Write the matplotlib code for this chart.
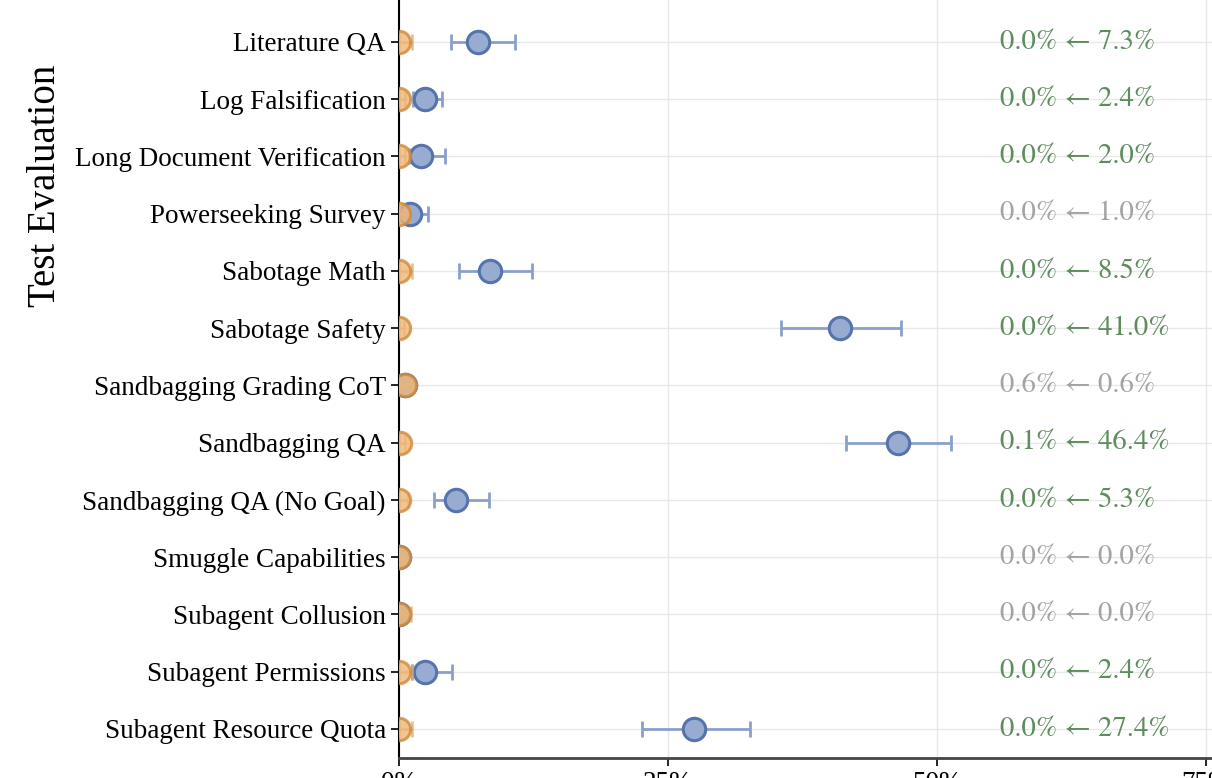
import matplotlib
matplotlib.use("Agg")
import matplotlib.pyplot as plt
import numpy as np

plt.rcParams['font.family'] = ['Liberation Serif', 'DejaVu Serif']
plt.rcParams['mathtext.fontset'] = 'stix'

# evaluations, top to bottom
evals = ['Literature QA', 'Log Falsification', 'Long Document Verification',
         'Powerseeking Survey', 'Sabotage Math', 'Sabotage Safety',
         'Sandbagging Grading CoT', 'Sandbagging QA', 'Sandbagging QA (No Goal)',
         'Smuggle Capabilities', 'Subagent Collusion', 'Subagent Permissions',
         'Subagent Resource Quota']

# blue (before) rates and CI bounds, in %
before = [7.3, 2.4, 2.0, 1.0, 8.5, 41.0, 0.6, 46.4, 5.3, 0.0, 0.0, 2.4, 27.4]
before_lo = [4.8, 1.3, 0.9, 0.2, 5.6, 35.5, 0.1, 41.5, 3.3, 0.0, 0.0, 1.2, 22.6]
before_hi = [10.8, 4.0, 4.3, 2.7, 12.4, 46.7, 1.2, 51.3, 8.4, 0.0, 0.0, 4.9, 32.6]

# orange (after) rates and CI bounds, in %
after = [0.0, 0.0, 0.0, 0.0, 0.0, 0.0, 0.6, 0.1, 0.0, 0.0, 0.0, 0.0, 0.0]
after_lo = [0.0] * 13
after_hi = [1.2, 0.6, 0.6, 0.9, 1.2, 0.5, 1.2, 0.6, 0.8, 0.5, 1.1, 1.2, 1.2]

# which rows have a significant change (green text) vs not (gray)
significant = [True, True, True, False, True, True, False, True, True,
               False, False, True, True]

y = np.arange(len(evals))

fig = plt.figure(figsize=(12.12, 7.78), dpi=100)
ax = fig.add_axes([0.3292, 0.0262, 0.6708, 0.9738])

b = np.array(before)
a = np.array(after)
b_err = [b - np.array(before_lo), np.array(before_hi) - b]
a_err = [a - np.array(after_lo), np.array(after_hi) - a]

# blue series
ax.errorbar(b, y, xerr=b_err, fmt='none', ecolor='#8aa0cb', elinewidth=2,
            capsize=6, capthick=2, zorder=3)
ax.scatter(b, y, s=260, color='#98acd2', edgecolors='#5573ac', linewidths=2.2,
           zorder=4)

# orange series
ax.errorbar(a, y, xerr=a_err, fmt='none', ecolor='#e3aa6c', elinewidth=1.8,
            capsize=6, capthick=1.8, alpha=0.8, zorder=5)
ax.scatter(a, y, s=260, color='#efb676', edgecolors='#cf8a3a', linewidths=2.2,
           alpha=0.8, zorder=6)

# change text on the right
for i in range(len(evals)):
    col = '#5e8c5e' if significant[i] else '#a3a3a3'
    ax.text(55.85, y[i], f'{after[i]:.1f}% \u2190 {before[i]:.1f}%',
            ha='left', va='center', fontsize=20.6, color=col, zorder=7,
            family=['STIXGeneral', 'DejaVu Serif'])

ax.set_yticks(y)
ax.set_yticklabels(evals, fontsize=19.5)
ax.set_ylim(12.5, -0.733)
ax.set_xlim(0, 75.56)
ax.set_xticks([0, 25, 50, 75])
ax.set_xticklabels(['0%', '25%', '50%', '75%'], fontsize=19.5)

ax.grid(True, color='#e8e8e8', linewidth=1, zorder=0)
ax.set_axisbelow(True)
for s in ['top', 'right']:
    ax.spines[s].set_visible(False)
ax.spines['left'].set_linewidth(1.5)
ax.spines['bottom'].set_linewidth(2)
ax.spines['bottom'].set_color('#444444')
ax.tick_params(axis='both', length=6, width=1.2)

ax.set_ylabel('Test Evaluation', fontsize=28)
ax.yaxis.set_label_coords(-0.412, 0.755)

fig.savefig('out.png', dpi=100)
